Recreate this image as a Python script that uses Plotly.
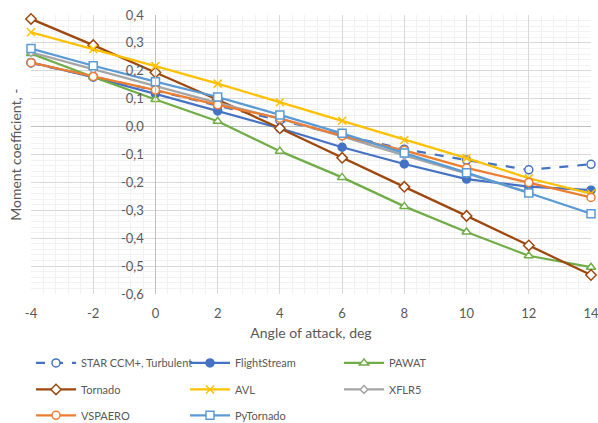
import plotly.graph_objects as go

# Angle of attack sweep, deg
alpha = [-4, -2, 0, 2, 4, 6, 8, 10, 12, 14]
alpha_xflr5 = [-4, -2, 0, 2, 4, 6, 8, 10, 12]

# Pitching moment coefficient per solver
star_ccm = [0.228, 0.180, 0.130, 0.075, 0.022, -0.030, -0.081, -0.120, -0.155, -0.135]
flightstream = [0.230, 0.177, 0.117, 0.056, -0.006, -0.074, -0.134, -0.188, -0.215, -0.228]
pawat = [0.262, 0.178, 0.097, 0.019, -0.088, -0.182, -0.286, -0.378, -0.463, -0.504]
tornado = [0.386, 0.292, 0.194, 0.096, -0.006, -0.112, -0.216, -0.320, -0.426, -0.532]
avl = [0.338, 0.278, 0.217, 0.154, 0.087, 0.021, -0.048, -0.113, -0.185, -0.240]
xflr5 = [0.266, 0.205, 0.145, 0.085, 0.028, -0.035, -0.103, -0.168, -0.236]
vspaero = [0.229, 0.180, 0.131, 0.078, 0.030, -0.033, -0.085, -0.148, -0.200, -0.254]
pytornado = [0.280, 0.218, 0.161, 0.106, 0.042, -0.024, -0.095, -0.165, -0.238, -0.312]

# Axis ticks (decimal comma, plain hyphen for negatives)
x_tickvals = [-4, -2, 0, 2, 4, 6, 8, 10, 12, 14]
x_ticktext = ["-4", "-2", "0", "2", "4", "6", "8", "10", "12", "14"]
y_tickvals = [-0.6, -0.5, -0.4, -0.3, -0.2, -0.1, 0.0, 0.1, 0.2, 0.3, 0.4]
y_ticktext = ["-0,6", "-0,5", "-0,4", "-0,3", "-0,2", "-0,1", "0,0", "0,1", "0,2", "0,3", "0,4"]

# name, x, y, colour, marker, dash, marker fill, legend row
series = [
    ("STAR CCM+, Turbulent", alpha, star_ccm, "#4472C4", "circle", "dash", "white", "legend"),
    ("FlightStream", alpha, flightstream, "#4472C4", "circle", "solid", "#4472C4", "legend"),
    ("PAWAT", alpha, pawat, "#70AD47", "triangle-up", "solid", "white", "legend"),
    ("Tornado", alpha, tornado, "#9E480E", "diamond", "solid", "white", "legend2"),
    ("AVL", alpha, avl, "#FFC000", "x-thin", "solid", "#FFC000", "legend2"),
    ("XFLR5", alpha_xflr5, xflr5, "#A5A5A5", "diamond", "solid", "white", "legend2"),
    ("VSPAERO", alpha, vspaero, "#ED7D31", "circle", "solid", "white", "legend3"),
    ("PyTornado", alpha, pytornado, "#5B9BD5", "square", "solid", "white", "legend3"),
]

FONT = "Lato"
TXT = "#595959"

fig = go.Figure()
for name, xs, ys, color, symbol, dash, fill, leg in series:
    size = 6 if name == "XFLR5" else 8
    fig.add_trace(go.Scatter(
        x=xs, y=ys, name=name, mode="lines+markers",
        line=dict(color=color, width=2.25, dash=dash),
        marker=dict(symbol=symbol, size=size, color=fill,
                    line=dict(color=color, width=1.5)),
        cliponaxis=False, legend=leg,
    ))


def legend_row(y):
    return dict(
        orientation="h", x=0.0, xanchor="left", y=y, yanchor="middle",
        entrywidth=99, entrywidthmode="pixels",
        font=dict(family=FONT, size=11, color=TXT),
        itemwidth=40, tracegroupgap=0, bgcolor="rgba(0,0,0,0)",
    )


fig.update_layout(
    width=598, height=423,
    margin=dict(l=31, r=7, t=15, b=129, autoexpand=False),
    paper_bgcolor="white", plot_bgcolor="white",
    font=dict(family=FONT, size=13, color=TXT),
    showlegend=True,
    legend=legend_row(-0.247),
    legend2=legend_row(-0.342),
    legend3=legend_row(-0.435),
    xaxis=dict(
        range=[-4, 14], tickmode="array", tickvals=x_tickvals, ticktext=x_ticktext,
        showgrid=True, gridcolor="#d9d9d9", gridwidth=1,
        minor=dict(dtick=0.4, tick0=-4, showgrid=True, gridcolor="#f2f2f2", gridwidth=1),
        zeroline=False, showline=False,
        ticks="outside", ticklen=7, tickcolor="rgba(0,0,0,0)",
        ticklabeloverflow="allow",
        tickfont=dict(family=FONT, size=13, color=TXT),
        title=dict(text="Angle of attack, deg", standoff=8,
                   font=dict(family=FONT, size=14, color=TXT)),
    ),
    yaxis=dict(
        range=[-0.6, 0.4], tickmode="array", tickvals=y_tickvals, ticktext=y_ticktext,
        anchor="free", position=4 / 18, side="left",
        showline=True, linecolor="#bfbfbf", linewidth=1,
        showgrid=True, gridcolor="#d9d9d9", gridwidth=1,
        minor=dict(dtick=0.02, tick0=-0.6, showgrid=True, gridcolor="#f2f2f2", gridwidth=1),
        zeroline=True, zerolinecolor="#bfbfbf", zerolinewidth=1,
        ticks="outside", ticklen=9, tickcolor="rgba(0,0,0,0)",
        tickfont=dict(family=FONT, size=13, color=TXT),
    ),
    annotations=[dict(
        text="Moment coefficient, -", xref="paper", yref="paper",
        x=-0.028, y=0.5, xanchor="center", yanchor="middle",
        textangle=-90, showarrow=False,
        font=dict(family=FONT, size=14, color=TXT),
    )],
)

fig.write_html("out.html")
